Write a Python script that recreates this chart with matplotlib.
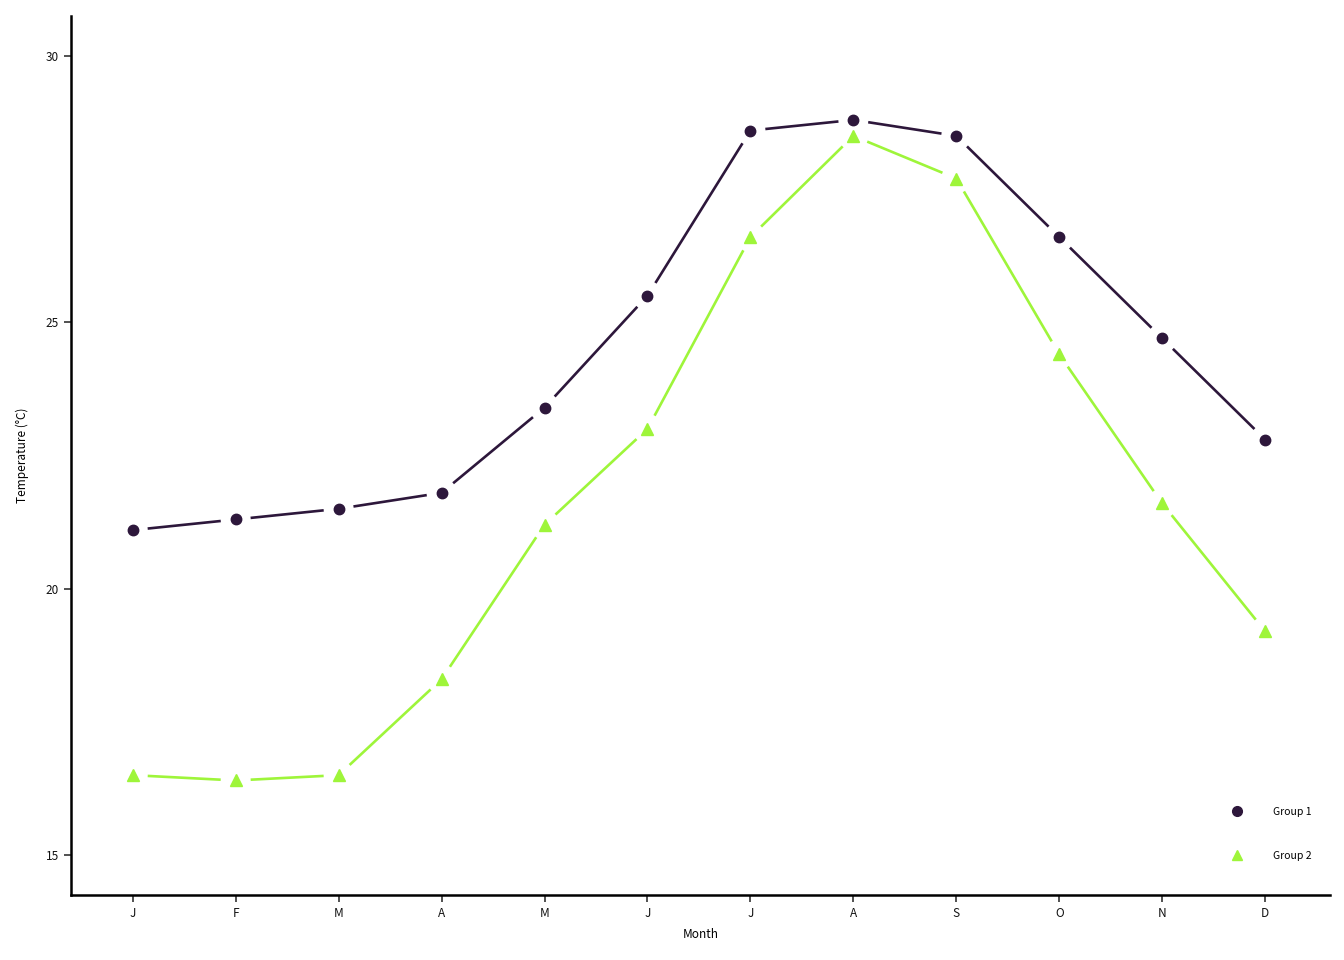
import numpy as np
import matplotlib
matplotlib.use("Agg")
import matplotlib.pyplot as plt
from matplotlib.lines import Line2D

plt.rcParams['font.family'] = ['Noto Sans CJK SC', 'DejaVu Sans']

months = ['J', 'F', 'M', 'A', 'M', 'J', 'J', 'A', 'S', 'O', 'N', 'D']
group1 = [21.1, 21.3, 21.5, 21.8, 23.4, 25.5, 28.6, 28.8, 28.5, 26.6, 24.7, 22.8]
group2 = [16.5, 16.4, 16.5, 18.3, 21.2, 23.0, 26.6, 28.5, 27.7, 24.4, 21.6, 19.2]
series_names = ['Group 1', 'Group 2']

colors = ['#2D173B', '#9EF53A']
markers = ['o', '^']


def gapped_line(ax, x, y, color, gap_px=15):
    # draw each segment shortened at both ends (in pixel space)
    pts = ax.transData.transform(np.column_stack([x, y]))
    inv = ax.transData.inverted()
    for p0, p1 in zip(pts[:-1], pts[1:]):
        d = p1 - p0
        length = np.hypot(*d)
        if length <= 2 * gap_px:
            continue
        u = d / length
        a = inv.transform(p0 + u * gap_px)
        b = inv.transform(p1 - u * gap_px)
        ax.plot([a[0], b[0]], [a[1], b[1]], color=color, lw=1.9,
                solid_capstyle='butt', zorder=2)


fig = plt.figure(figsize=(13.44, 9.6), dpi=100)
ax = fig.add_axes([0.0528, 0.0677, 0.9368, 0.9156])

x = np.arange(len(months))
ax.set_xlim(-0.6, 11.63)
ax.set_ylim(14.25, 30.75)

for vals, c, m in zip([group1, group2], colors, markers):
    gapped_line(ax, x, vals, c)
    ax.plot(x, vals, linestyle='none', marker=m, color=c,
            markersize=7.5 if m == 'o' else 8.5, zorder=3)

ax.set_xticks(x)
ax.set_xticklabels(months)
ax.set_yticks([15, 20, 25, 30])
ax.tick_params(axis='both', labelsize=8.5, length=5, width=1.2,
               color='#333333', labelcolor='#111111')

for s in ['top', 'right']:
    ax.spines[s].set_visible(False)
for s in ['left', 'bottom']:
    ax.spines[s].set_linewidth(1.8)
    ax.spines[s].set_color('black')

ax.set_xlabel('Month', fontsize=8.5, labelpad=6)
ax.set_ylabel('Temperature (°C)', fontsize=8.5, labelpad=12)

handles = [Line2D([], [], linestyle='none', marker=m, color=c, markersize=7)
           for m, c in zip(markers, colors)]
ax.legend(handles, series_names, loc='lower right', frameon=False,
          fontsize=7.5, handletextpad=2.5, labelspacing=3.3,
          bbox_to_anchor=(0.993, 0.028))

fig.savefig('out.png', dpi=100)
